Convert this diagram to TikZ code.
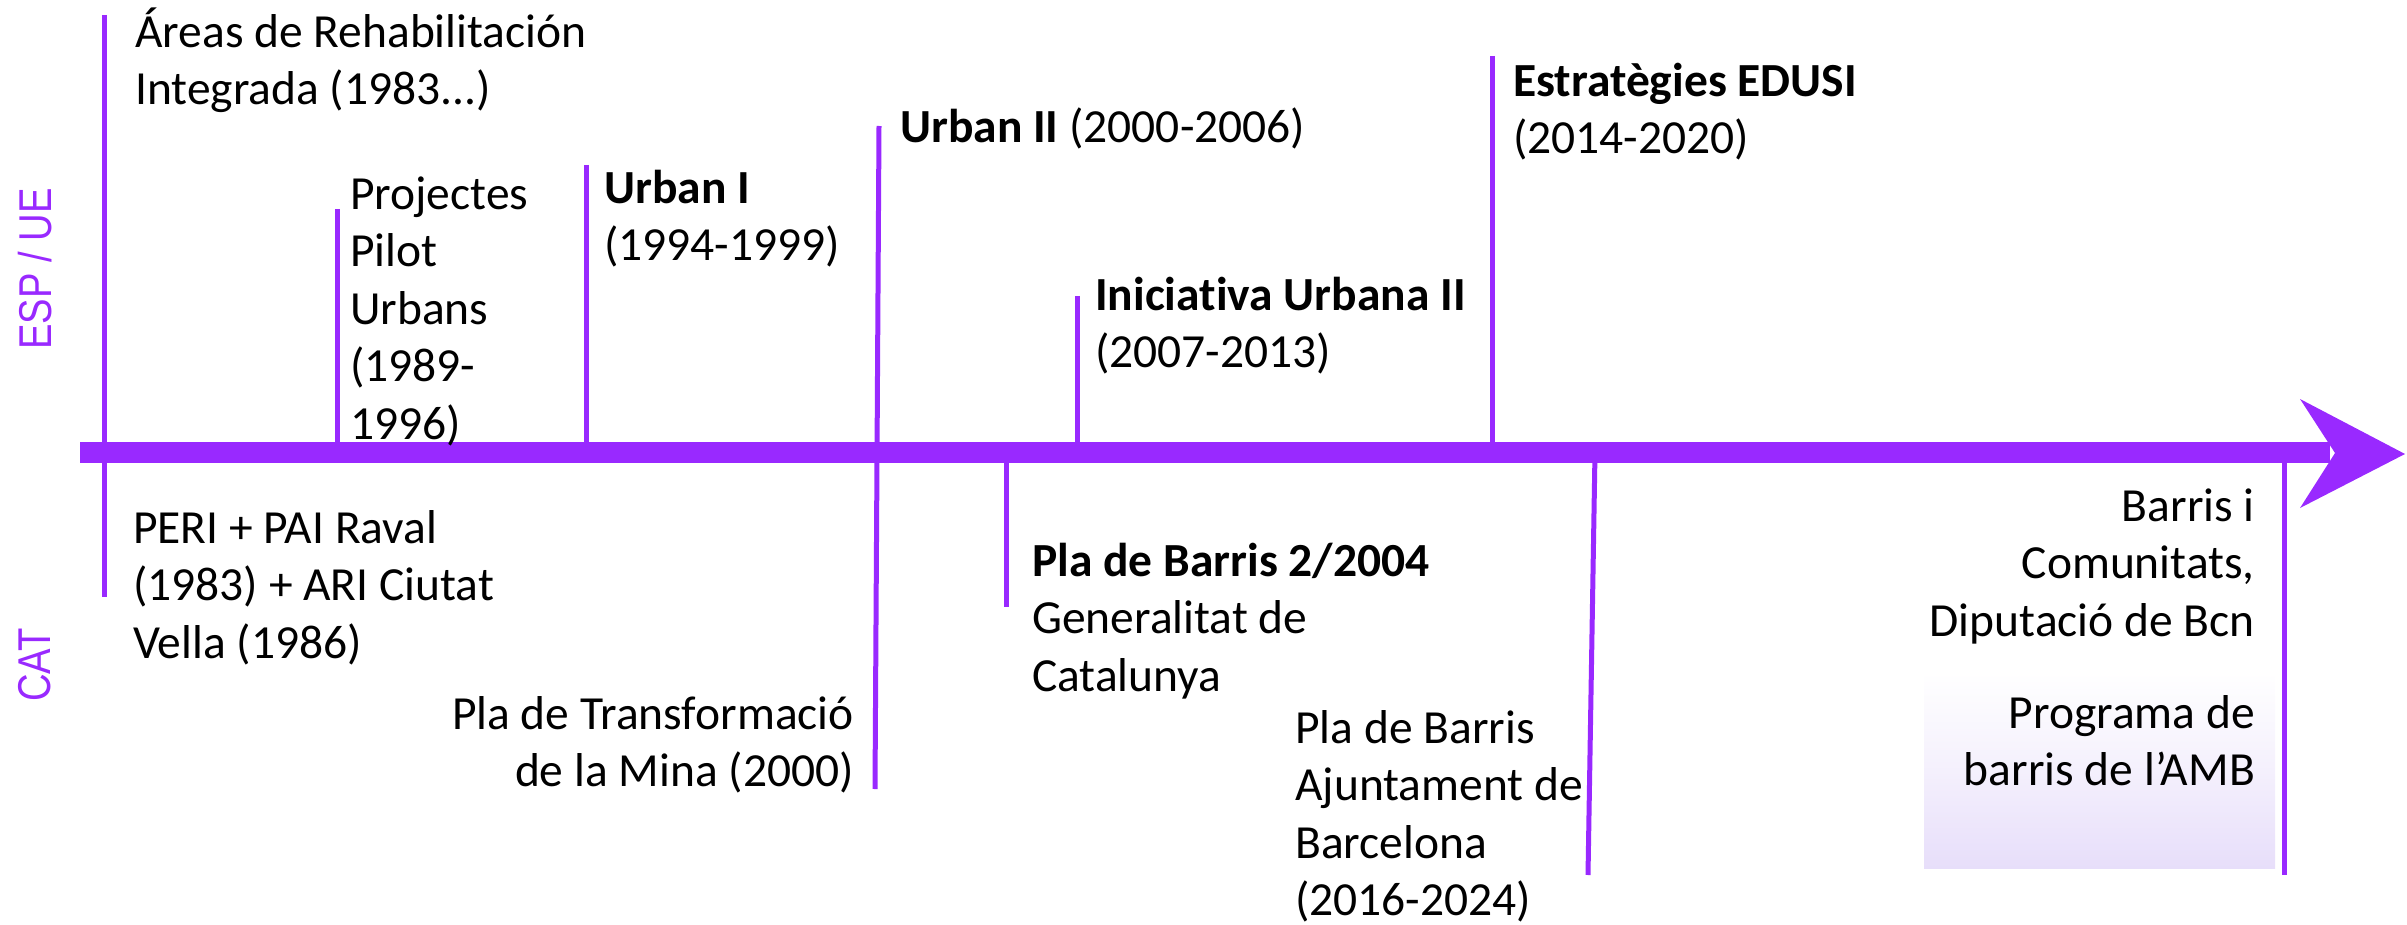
\documentclass[tikz,border=0pt]{standalone}
\usepackage{fontspec}
\usepackage{graphicx}
\setmainfont{Carlito}[Ligatures={NoCommon}]
\newfontfamily\sidefont{Liberation Sans}
\definecolor{tlpurple}{RGB}{153,41,255}
\definecolor{lavender}{RGB}{231,222,250}
\begin{document}
\begin{tikzpicture}[x=1pt,y=-1pt,
  lbl/.style={inner sep=0pt, anchor=north west, align=left, yshift=40.25pt,
    font=\fontsize{47.5}{57.5}\selectfont},
  lblr/.style={lbl, anchor=north east, align=right},
  tick/.style={draw=tlpurple, line width=5pt},
  side/.style={text=tlpurple, rotate=90, inner sep=0pt,
    font=\sidefont\fontsize{46}{50}\selectfont}]
\useasboundingbox (0,0) rectangle (2407,925);
% shaded box
\shade[top color=white, bottom color=lavender, middle color=lavender!45]
  (1924,672) rectangle (2275,868);
% tick coordinates
\coordinate (a1) at (104,15);   \coordinate (a2) at (104,597);
\coordinate (p1) at (337,209);  \coordinate (p2) at (337,452);
\coordinate (u1) at (586,165);  \coordinate (u2) at (586,452);
\coordinate (m1) at (879,126);  \coordinate (m2) at (875,789);
\coordinate (i1) at (1077,296); \coordinate (i2) at (1077,452);
\coordinate (e1) at (1492,56);  \coordinate (e2) at (1492,452);
\coordinate (g1) at (1006,452); \coordinate (g2) at (1006,607);
\coordinate (b1) at (1595,452); \coordinate (b2) at (1588,875);
\coordinate (c1) at (2284,452); \coordinate (c2) at (2284,875);
\foreach \s in {a,p,u,m,i,e,g,b,c} \draw[tick] (\s1) -- (\s2);
% main arrow
\coordinate (barstart) at (80,452.5);
\coordinate (barend) at (2330,452.5);
\draw[tlpurple, line width=21pt] (barstart) -- (barend);
\fill[tlpurple] (2300,399) -- (2405,454) -- (2300,508) -- (2335,453) -- cycle;
% side labels
\node[side] (esp) at (35,269) {\scalebox{0.83}[1]{ESP / UE}};
\node[side] (cat) at (35,665) {\scalebox{0.83}[1]{CAT}};
% labels
\node[lbl] (areas) at (135,47) {\strut Áreas de Rehabilitación\\Integrada (1983...)};
\node[lbl] (pilot) at (350,209) {\strut Projectes\\Pilot\\Urbans\\(1989-\\1996)};
\node[lbl] (urban1) at (604,203) {\strut\textbf{Urban I}\\(1994-1999)};
\node[lbl] (urban2) at (900,142) {\strut\textbf{Urban II} (2000-2006)};
\node[lbl] (inic) at (1095,310) {\strut\textbf{Iniciativa Urbana II}\\(2007-2013)};
\node[lbl] (edusi) at (1513,96) {\strut\textbf{Estratègies EDUSI}\\(2014-2020)};
\node[lbl] (peri) at (133,543) {\strut PERI + PAI Raval\\(1983) + ARI Ciutat\\Vella (1986)};
\node[lblr] (mina) at (854,729) {\strut Pla de Transformació\\de la Mina (2000)};
\node[lbl] (pb2004) at (1032,576) {\strut\textbf{Pla de Barris 2/2004}\\Generalitat de\\Catalunya};
\node[lbl] (pbbcn) at (1295,743) {\strut Pla de Barris\\Ajuntament de\\Barcelona\\(2016-2024)};
\node[lblr] (dipu) at (2255,521) {\strut Barris i\\Comunitats,\\Diputació de Bcn};
\node[lblr] (amb) at (2255,728) {\strut Programa de\\barris de l’AMB};
\end{tikzpicture}
\end{document}
